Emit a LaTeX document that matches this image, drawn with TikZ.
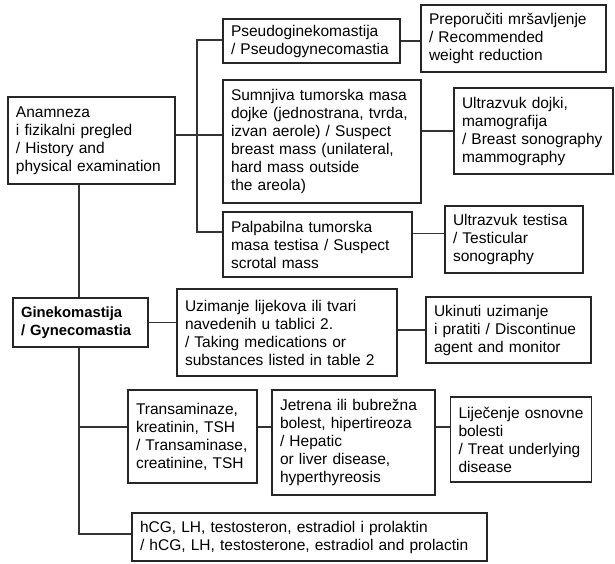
\documentclass[tikz,border=0pt]{standalone}
\usepackage{fontspec}
\setmainfont{Liberation Sans}
\begin{document}
\begin{tikzpicture}[
  x=1pt, y=-1pt,
  box/.style={%
    rectangle,%
    draw=black!85,
    %very thick,%
    line width=1.1pt,
    align=left,
    inner xsep=8pt,
    inner ysep=0pt,
    text=black,
    font=\fontsize{15.5}{18}\selectfont
  },
  mainbox/.style={%
    box,
    line width=2pt
  },
  link/.style={%
    draw=black!80,
    line width=1.2pt
  }
]
  \useasboundingbox (0,0) rectangle (615,563);

  \node [mainbox, text width=151pt, minimum height=87pt] (anamneza) at (91.5,140.5)
    {Anamneza\\i fizikalni pregled\\/ History and\\physical examination};
  \node [box, text width=161pt, minimum height=44pt] (pseudo) at (311.5,41)
    {Pseudoginekomastija\\/ Pseudogynecomastia};
  \node [box, text width=169pt, minimum height=67pt] (preporuka) at (513.5,38.5)
    {Preporučiti mršavljenje\\/ Recommended\\weight reduction};
  \node [box, text width=182pt, minimum height=123pt] (sumnjiva) at (322,141.5)
    {Sumnjiva tumorska masa\\dojke (jednostrana, tvrda,\\izvan aerole) / Suspect\\breast mass (unilateral,\\hard mass outside\\the areola)};
  \node [box, text width=143pt, minimum height=86pt] (uzvdojke) at (533.5,131)
    {Ultrazvuk dojki,\\mamografija\\/ Breast sonography\\mammography};
  \node [box, text width=173pt, minimum height=65pt] (palpabilna) at (317.5,244.5)
    {Palpabilna tumorska\\masa testisa / Suspect\\scrotal mass};
  \node [box, text width=122pt, minimum height=67pt] (uzvtestis) at (514,239.5)
    {Ultrazvuk testisa\\/ Testicular\\sonography};

  \node [mainbox, text width=119pt, minimum height=49pt,
         font=\fontsize{14.8}{18}\selectfont\bfseries] (gineko) at (80.5,322.5)
    {Ginekomastija\\/ Gynecomastia};
  \node [box, text width=204pt, minimum height=87pt] (lijekovi) at (287,332.5)
    {Uzimanje lijekova ili tvari\\navedenih u tablici 2.\\/ Taking medications or\\substances listed in table 2};
  \node [box, text width=149pt, minimum height=66pt] (ukinuti) at (508.5,330)
    {Ukinuti uzimanje\\i pratiti / Discontinue\\agent and monitor};

  \node [box, text width=113pt, minimum height=93pt] (transam) at (192.5,436.5)
    {Transaminaze,\\kreatinin, TSH\\/ Transaminase,\\creatinine, TSH};
  \node [box, text width=147pt, minimum height=105pt] (jetrena) at (353.5,442.5)
    {Jetrena ili bubrežna\\bolest, hipertireoza\\/ Hepatic\\or liver disease,\\hyperthyreosis};
  \node [box, text width=125pt, minimum height=85pt] (lijecenje) at (521,439.5)
    {Liječenje osnovne\\bolesti\\/ Treat underlying\\disease};
  \node [box, text width=339pt, minimum height=48pt] (hormoni) at (309.5,537)
    {hCG, LH, testosteron, estradiol i prolaktin\\/ hCG, LH, testosterone, estradiol and prolactin};

  % branch points
  \coordinate (forktop) at (197,40);
  \coordinate (forkmid) at (197,135);
  \coordinate (forkbot) at (197,232);
  \coordinate (labs)    at (79,427);

  \draw[link] (anamneza.east |- forkmid) -- (sumnjiva.west |- forkmid);
  \draw[link] (forktop -| pseudo.west) -- (forktop) -- (forkbot) -- (forkbot -| palpabilna.west);
  \draw[link] (pseudo.east) -- (pseudo.east -| preporuka.west);
  \draw[link] (uzvdojke.west -| sumnjiva.east) -- (uzvdojke.west);
  \draw[link] ([yshift=6pt]uzvtestis.west -| palpabilna.east) -- ([yshift=6pt]uzvtestis.west);

  \draw[link] (anamneza.south -| labs) -- (gineko.north -| labs);
  \draw[link] (gineko.east) -- (gineko.east -| lijekovi.west);
  \draw[link] (ukinuti.west -| lijekovi.east) -- (ukinuti.west);
  \draw[link] (gineko.south -| labs) -- ([yshift=3pt]hormoni.west -| labs) -- ([yshift=3pt]hormoni.west);
  \draw[link] (labs) -- (labs -| transam.west);
  \draw[link] (labs -| transam.east) -- (labs -| jetrena.west);
  \draw[link] (labs -| jetrena.east) -- (labs -| lijecenje.west);

\end{tikzpicture}
\end{document}
